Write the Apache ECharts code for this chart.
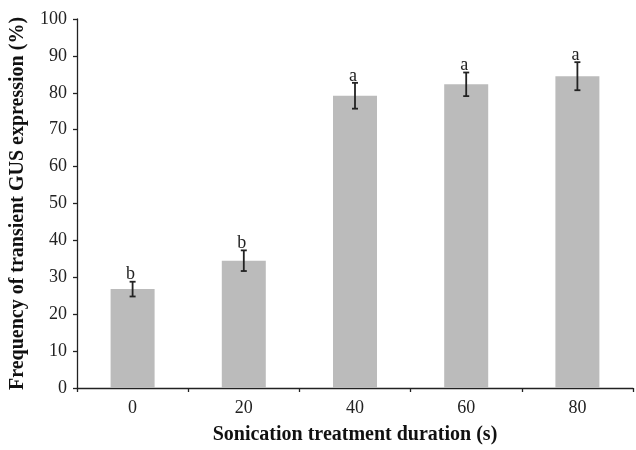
<!DOCTYPE html>
<html>
<head>
<meta charset="utf-8">
<script src="https://cdn.jsdelivr.net/npm/echarts@6/dist/echarts.min.js"></script>
<style>html,body{margin:0;padding:0;background:#fff;}#c{width:636px;height:450px;}</style>
</head>
<body>
<div id="c"></div>
<script>
var categories = ['0', '20', '40', '60', '80'];
var values = [26.8, 34.5, 79.2, 82.3, 84.5];
var errors = [2.0, 2.8, 3.5, 3.2, 3.8];
var letters = ['b', 'b', 'a', 'a', 'a'];
var yTicks = { min: 0, max: 100, interval: 10 };

var chart = echarts.init(document.getElementById('c'), null, { renderer: 'canvas' });
var serif = '"Liberation Serif", "DejaVu Serif", serif';

var errData = values.map(function (v, i) { return [i, v, errors[i]]; });

chart.setOption({
  animation: false,
  backgroundColor: '#fff',
  grid: { left: 77, right: 3, top: 19, bottom: 60, containLabel: false },
  xAxis: {
    type: 'category',
    data: categories,
    name: 'Sonication treatment duration (s)',
    nameLocation: 'middle',
    nameGap: 37,
    nameTextStyle: { fontFamily: serif, fontWeight: 'bold', fontSize: 20, color: '#111' },
    axisLine: { lineStyle: { color: '#222', width: 1.3 } },
    axisTick: { show: true, alignWithLabel: false, length: 4, lineStyle: { color: '#222', width: 1.3 } },
    axisLabel: { fontFamily: serif, fontSize: 18, color: '#222', margin: 11 },
    splitLine: { show: false }
  },
  yAxis: {
    type: 'value',
    min: yTicks.min, max: yTicks.max, interval: yTicks.interval,
    name: 'Frequency of transient GUS expression (%)',
    nameLocation: 'middle',
    nameGap: 49,
    nameRotate: 90,
    nameTextStyle: { fontFamily: serif, fontWeight: 'bold', fontSize: 20, color: '#111' },
    axisLine: { show: true, lineStyle: { color: '#222', width: 1.3 } },
    axisTick: { show: true, length: 4, lineStyle: { color: '#222', width: 1.3 } },
    axisLabel: { fontFamily: serif, fontSize: 18, color: '#222', margin: 10 },
    splitLine: { show: false }
  },
  series: [
    {
      type: 'bar',
      data: values,
      barWidth: 44,
      itemStyle: { color: '#bbbbbb' },
      silent: true
    },
    {
      type: 'custom',
      data: errData,
      z: 10,
      silent: true,
      renderItem: function (params, api) {
        var i = api.value(0), v = api.value(1), e = api.value(2);
        var top = api.coord([i, v + e]);
        var bot = api.coord([i, v - e]);
        var x = top[0];
        var cap = 3;
        var st = { stroke: '#222', lineWidth: 1.8 };
        return {
          type: 'group',
          children: [
            { type: 'line', shape: { x1: x, y1: top[1], x2: x, y2: bot[1] }, style: st },
            { type: 'line', shape: { x1: x - cap, y1: top[1], x2: x + cap, y2: top[1] }, style: st },
            { type: 'line', shape: { x1: x - cap, y1: bot[1], x2: x + cap, y2: bot[1] }, style: st },
            { type: 'text', x: x - 2, y: top[1] + 2,
              style: { text: letters[params.dataIndex], fontFamily: serif, fontSize: 18, fill: '#222',
                       textAlign: 'center', textVerticalAlign: 'bottom' } }
          ]
        };
      }
    }
  ]
});
</script>
</body>
</html>
